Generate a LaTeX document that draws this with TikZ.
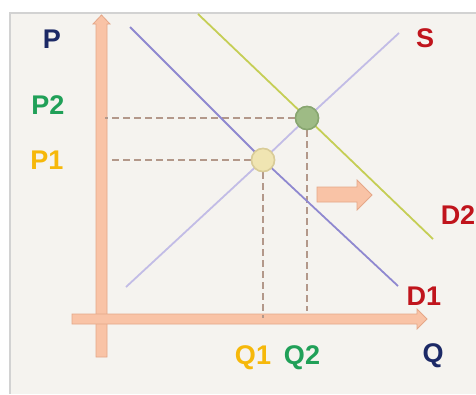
\documentclass[tikz,border=0pt]{standalone}
\usepackage{fontspec}
\setmainfont{Liberation Sans}
\definecolor{bg}{HTML}{F5F3EF}
\definecolor{framecol}{HTML}{D2D2D2}
\definecolor{axisfill}{HTML}{F9C3A6}
\definecolor{axisedge}{HTML}{E5A788}
\definecolor{dline}{HTML}{8F88D0}
\definecolor{sline}{HTML}{C2BCE6}
\definecolor{dtwoline}{HTML}{C5CE55}
\definecolor{guidecol}{HTML}{B3988A}
\definecolor{gpt}{HTML}{9EBB85}
\definecolor{gptedge}{HTML}{88A670}
\definecolor{ypt}{HTML}{F0E5B2}
\definecolor{yptedge}{HTML}{D9CC98}
\definecolor{navy}{HTML}{1C2966}
\definecolor{grn}{HTML}{20A058}
\definecolor{gold}{HTML}{F6B80A}
\definecolor{redlbl}{HTML}{C0141C}
\tikzset{
  lbl/.style={font=\fontsize{27}{29}\selectfont\bfseries, inner sep=0pt},
  axisshape/.style={fill=axisfill, draw=axisedge, line width=0.8pt},
  guide/.style={draw=guidecol, dash pattern=on 7pt off 4pt, line width=2.6pt},
  pt/.style={circle, minimum size=23pt, inner sep=0pt, line width=1.5pt},
  curve/.style={line width=1.8pt},
}
\begin{document}
\begin{tikzpicture}[x=1pt,y=-1pt]
\useasboundingbox (0,0) rectangle (476,394);
\fill[white] (0,0) rectangle (476,394);
\fill[bg] (10,13) rectangle (476,394);
\draw[framecol, line width=2pt] (10,394) -- (10,13) -- (476,13);
% axes
\path[axisshape] (96,357) -- (96,24) -- (93,24) -- (101.5,15) -- (110,24) -- (107,24) -- (107,357) -- cycle;
\path[axisshape] (72,314) -- (417,314) -- (417,309) -- (427,319) -- (417,329) -- (417,324) -- (72,324) -- cycle;
% points
\node[pt, fill=gpt, draw=gptedge] (E2) at (307,118) {};
\node[pt, fill=ypt, draw=yptedge] (E1) at (263,160) {};
% axis coordinates
\coordinate (p2a) at (105,118);
\coordinate (p1a) at (108,160);
\coordinate (q1a) at (263,318);
\coordinate (q2a) at (307,311);
% dashed guides
\draw[guide] (E2.west) -- (p2a);
\draw[guide] (E1.west) -- (p1a);
\draw[guide] (E1.south) -- (q1a);
\draw[guide] (E2.south) -- (q2a);
% curves
\coordinate (d1s) at (130,27);
\coordinate (d1e) at (398,286);
\coordinate (ss) at (126,287);
\coordinate (se) at (399,33);
\coordinate (d2s) at (198,14);
\coordinate (d2e) at (433,239);
\draw[curve, sline] (ss) -- (E1.center) -- (E2.center) -- (se);
\draw[curve, dline] (d1s) -- (E1.center) -- (d1e);
\draw[curve, dtwoline] (d2s) -- (E2.center) -- (d2e);
% redraw points on top
\node[pt, fill=gpt, draw=gptedge] at (E2) {};
\node[pt, fill=ypt, draw=yptedge] at (E1) {};
% shift arrow
\path[axisshape] (317,187) -- (357,187) -- (357,180) -- (372,195) -- (357,210) -- (357,202) -- (317,202) -- cycle;
% labels
\node[lbl, text=navy] (P) at (52,39) {P};
\node[lbl, text=grn] (P2) at (48,105) {P2};
\node[lbl, text=gold] (P1) at (47,160) {P1};
\node[lbl, text=redlbl] (S) at (425,38) {S};
\node[lbl, text=redlbl] (D2) at (458,215) {D2};
\node[lbl, text=redlbl] (D1) at (424,296) {D1};
\node[lbl, text=gold] (Q1) at (253,358) {Q1};
\node[lbl, text=grn] (Q2) at (302,358) {Q2};
\node[lbl, text=navy] (Q) at (433,356) {Q};
\end{tikzpicture}
\end{document}
